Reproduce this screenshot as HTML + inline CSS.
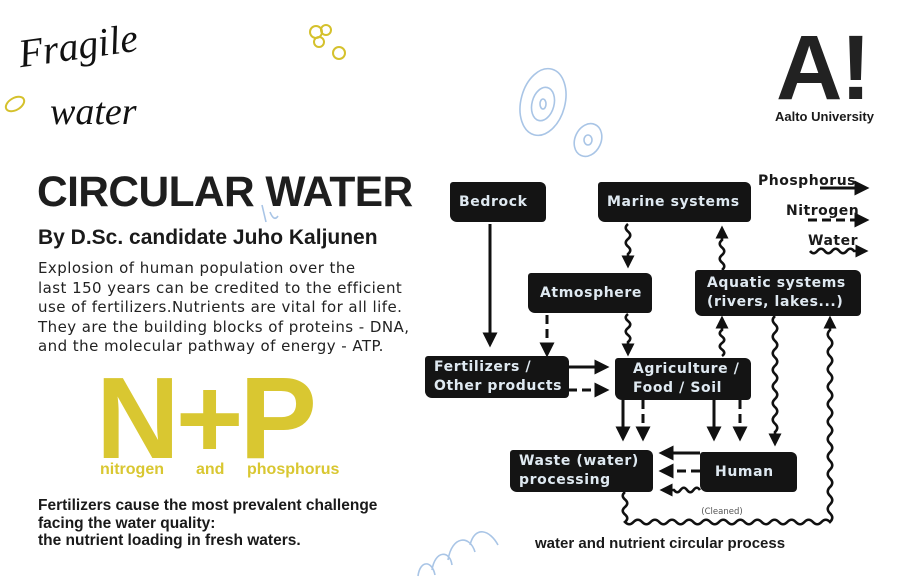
<!DOCTYPE html>
<html><head><meta charset="utf-8">
<style>
*{margin:0;padding:0;box-sizing:border-box}
body{width:914px;height:578px;background:#fff;position:relative;overflow:hidden;font-family:"DejaVu Sans","Liberation Sans",sans-serif;color:#1a1a1a}
.a{position:absolute;white-space:nowrap}
.box{position:absolute;background:#141414;color:#dfe9f1;font-family:"DejaVu Sans",sans-serif;font-weight:bold;font-size:14px;line-height:19px;letter-spacing:0.6px;border-radius:3px 6px 4px 7px;display:flex;align-items:center;padding-left:9px}
.y{color:#d9c731;font-family:"Liberation Sans",sans-serif;font-weight:bold}
</style></head><body>
<svg class="a" style="left:0;top:0" width="914" height="578">
<defs><marker id="ah" markerWidth="5" markerHeight="5" refX="2.5" refY="2.5" orient="auto" markerUnits="strokeWidth"><path d="M0,0 L5,2.5 L0,5 z" fill="#111"/></marker></defs>
<g fill="none" stroke="#a9c5e6" stroke-width="1.6">
<ellipse cx="543" cy="102" rx="22" ry="34" transform="rotate(15 543 102)"/>
<ellipse cx="543" cy="104" rx="11" ry="17" transform="rotate(15 543 104)"/>
<ellipse cx="543" cy="104" rx="3" ry="5"/>
<ellipse cx="588" cy="140" rx="13" ry="17" transform="rotate(25 588 140)"/>
<ellipse cx="588" cy="140" rx="4" ry="5"/>
<path d="M418,576 C420,560 432,560 435,575 M432,570 C435,550 450,550 452,565 M448,560 C452,535 470,535 475,552 M470,545 C475,525 490,530 498,545"/>
<path d="M262,205 L266,222 M270,212 q4,10 8,4"/>
</g>
<g fill="none" stroke="#d5c12c" stroke-width="2">
<circle cx="316" cy="32" r="6"/><circle cx="326" cy="30" r="5"/><circle cx="319" cy="42" r="5"/><circle cx="339" cy="53" r="6"/>
<ellipse cx="15" cy="104" rx="10" ry="6" transform="rotate(-30 15 104)"/>
</g>
<g id="arr" stroke="#111" stroke-width="3" fill="none" marker-end="url(#ah)">
<line x1="490" y1="224" x2="490" y2="340"/>
<line x1="547" y1="315" x2="547" y2="350" stroke-dasharray="9,5"/>
<line x1="568" y1="367" x2="602" y2="367"/>
<line x1="568" y1="390" x2="602" y2="390" stroke-dasharray="9,5"/>
<line x1="623" y1="400" x2="623" y2="434"/>
<line x1="643" y1="400" x2="643" y2="434" stroke-dasharray="9,5"/>
<line x1="714" y1="400" x2="714" y2="434"/>
<line x1="740" y1="400" x2="740" y2="434" stroke-dasharray="9,5"/>
<line x1="700" y1="453" x2="666" y2="453"/>
<line x1="700" y1="471" x2="666" y2="471" stroke-dasharray="9,5"/>
<line x1="820" y1="188" x2="862" y2="188"/>
<line x1="808" y1="220" x2="862" y2="220" stroke-dasharray="9,5"/>
</g>
<g id="wv" stroke="#111" stroke-width="2.6" fill="none"></g>
<text x="722" y="514" font-family="DejaVu Sans" font-size="8.5" fill="#555" text-anchor="middle">(Cleaned)</text>
</svg>
<script>
(function(){
var g=document.getElementById('wv');var ns='http://www.w3.org/2000/svg';
function wav(pts,arrow){var d='M'+pts[0][0]+','+pts[0][1];
for(var i=1;i<pts.length;i++){var a=pts[i-1],b=pts[i].slice();var last=(i==pts.length-1)&&arrow;
var dx=b[0]-a[0],dy=b[1]-a[1];var L=Math.sqrt(dx*dx+dy*dy);var ux=dx/L,uy=dy/L;
var e=b;if(last){e=[b[0]-ux*8,b[1]-uy*8];dx=e[0]-a[0];dy=e[1]-a[1];L-=8;}
var n=Math.max(1,Math.round(L/9));if(n%2)n++;var px=-uy,py=ux;var s=1;
for(var k=0;k<n;k++){var t1=(k+1)/n,tm=(k+0.5)/n;var cx=a[0]+dx*tm+px*4.5*s,cy=a[1]+dy*tm+py*4.5*s;d+=' Q'+cx.toFixed(1)+','+cy.toFixed(1)+' '+(a[0]+dx*t1).toFixed(1)+','+(a[1]+dy*t1).toFixed(1);s=-s;}
if(last)d+=' L'+b[0]+','+b[1];}
var p=document.createElementNS(ns,'path');p.setAttribute('d',d);if(arrow)p.setAttribute('marker-end','url(#ah)');g.appendChild(p);}
wav([[628,224],[628,262]],1);
wav([[628,314],[628,350]],1);
wav([[722,356],[722,322]],1);
wav([[722,270],[722,232]],1);
wav([[775,316],[775,440]],1);
wav([[700,490],[666,490]],1);
wav([[625,492],[625,522],[830,522],[830,322]],1);
wav([[810,251],[862,251]],1);
})();
</script>

<div class="a" style="left:18px;top:22px;font-family:'Liberation Serif',serif;font-style:italic;font-size:40px;transform:rotate(-8deg);color:#111">Fragile</div>
<div class="a" style="left:50px;top:90px;font-family:'Liberation Serif',serif;font-style:italic;font-size:38px;color:#111">water</div>

<div class="a" style="left:776px;top:22px;font-family:'Liberation Sans',sans-serif;font-weight:bold;font-size:92px;line-height:92px;color:#222;letter-spacing:-2px">A!</div>
<div class="a" style="left:775px;top:109px;font-family:'Liberation Sans',sans-serif;font-weight:bold;font-size:13px">Aalto University</div>

<div class="a" style="left:37px;top:170px;font-family:'Liberation Sans',sans-serif;font-weight:bold;font-size:42.5px;line-height:46px;letter-spacing:-0.6px;color:#1e1e1e">CIRCULAR WATER</div>
<div class="a" style="left:38px;top:226px;font-family:'Liberation Sans',sans-serif;font-weight:bold;font-size:21px">By D.Sc. candidate Juho Kaljunen</div>
<div class="a" style="left:38px;top:259px;font-family:'DejaVu Sans',sans-serif;font-size:15px;line-height:19.5px;letter-spacing:0.45px;color:#222">Explosion of human population over the<br>last 150 years can be credited to the efficient<br>use of fertilizers.Nutrients are vital for all life.<br>They are the building blocks of proteins - DNA,<br>and the molecular pathway of energy - ATP.</div>

<div class="a y" style="left:96px;top:360px;font-size:116px;line-height:116px;letter-spacing:-4px">N+P</div>
<div class="a y" style="left:100px;top:461px;font-size:16px">nitrogen</div>
<div class="a y" style="left:196px;top:461px;font-size:16px">and</div>
<div class="a y" style="left:247px;top:461px;font-size:16px">phosphorus</div>

<div class="a" style="left:38px;top:497px;font-family:'Liberation Sans',sans-serif;font-weight:bold;font-size:15.5px;line-height:17.5px">Fertilizers cause the most prevalent challenge<br>facing the water quality:<br>the nutrient loading in fresh waters.</div>

<div class="box" style="left:450px;top:182px;width:96px;height:40px">Bedrock</div>
<div class="box" style="left:598px;top:182px;width:153px;height:40px">Marine systems</div>
<div class="box" style="left:528px;top:273px;width:124px;height:40px;padding-left:12px">Atmosphere</div>
<div class="box" style="left:695px;top:270px;width:166px;height:46px;padding-left:12px">Aquatic systems<br>(rivers, lakes...)</div>
<div class="box" style="left:425px;top:356px;width:144px;height:42px">Fertilizers /<br>Other products</div>
<div class="box" style="left:615px;top:358px;width:136px;height:42px;padding-left:18px">Agriculture /<br>Food / Soil</div>
<div class="box" style="left:510px;top:450px;width:143px;height:42px">Waste (water)<br>processing</div>
<div class="box" style="left:700px;top:452px;width:97px;height:40px;padding-left:15px">Human</div>

<div class="a" style="left:758px;top:173px;font-family:'DejaVu Sans',sans-serif;font-weight:bold;font-size:14px;letter-spacing:0.5px">Phosphorus</div>
<div class="a" style="left:786px;top:203px;font-family:'DejaVu Sans',sans-serif;font-weight:bold;font-size:14px;letter-spacing:0.5px">Nitrogen</div>
<div class="a" style="left:808px;top:233px;font-family:'DejaVu Sans',sans-serif;font-weight:bold;font-size:14px;letter-spacing:0.5px">Water</div>

<div class="a" style="left:535px;top:535px;font-family:'Liberation Sans',sans-serif;font-weight:bold;font-size:15px">water and nutrient circular process</div>
</body></html>
